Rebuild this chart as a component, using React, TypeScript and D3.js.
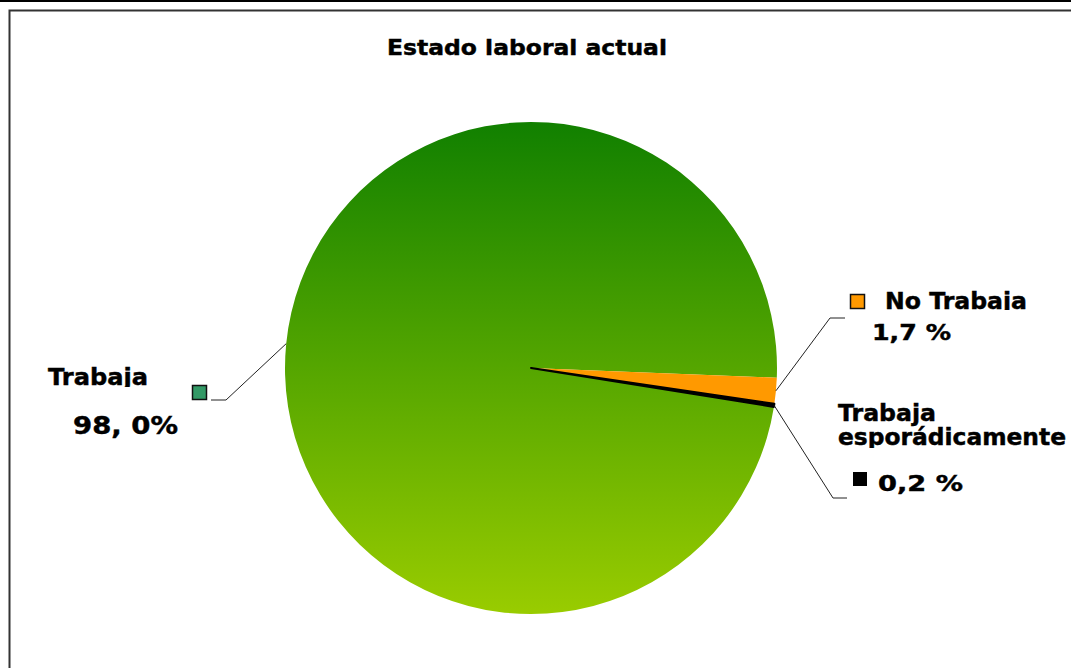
import React from "react";
import * as d3 from "d3";

const title = "Estado laboral actual";
const categories = ["Trabaja", "No Trabaja", "Trabaja esporádicamente"];
const values = [98.0, 1.7, 0.2];
const valueLabels = ["98, 0%", "1,7 %", "0,2 %"];

const W = 1071;
const H = 668;
const cx = 531;
const cy = 368;
const R = 246;
const FONT = "'DejaVu Sans', Verdana, sans-serif";

const textStyle = {
  fontFamily: FONT,
  fontWeight: "bold" as const,
  stroke: "#000",
  strokeWidth: 0.45,
};

export default function App() {
  const startDeg = 99.1;
  const pie = d3
    .pie<number>()
    .sort(null)
    .value((d) => d)
    .startAngle((startDeg * Math.PI) / 180)
    .endAngle((startDeg * Math.PI) / 180 + 2 * Math.PI);
  const arcs = pie(values);
  const arc = d3.arc<d3.PieArcDatum<number>>().innerRadius(0).outerRadius(R);
  const edge = (a: d3.PieArcDatum<number>) => {
    const m = (a.startAngle + a.endAngle) / 2;
    return [cx + R * Math.sin(m), cy - R * Math.cos(m)];
  };
  const fills = ["url(#greenGrad)", "#FF9900", "#000000"];

  const leaders = [
    [[226, 400], [211, 400]],
    [[830, 318], [845, 318]],
    [[833, 498], [847, 498]],
  ];
  const line = d3.line();

  return (
    <svg
      width={W}
      height={H}
      style={{ position: "absolute", left: 0, top: 0, background: "#fff" }}
    >
      <defs>
        <linearGradient
          id="greenGrad"
          gradientUnits="userSpaceOnUse"
          x1={0}
          y1={-R}
          x2={0}
          y2={R}
        >
          <stop offset="0" stopColor="#118000" />
          <stop offset="1" stopColor="#99CC00" />
        </linearGradient>
        <clipPath id="clipTrL">
          <rect x={0} y={300} width={300} height={87} />
        </clipPath>
        <clipPath id="clipNo">
          <rect x={870} y={270} width={200} height={40} />
        </clipPath>
        <clipPath id="clipEsp">
          <rect x={830} y={425} width={241} height={23} />
        </clipPath>
      </defs>
      <rect x={0} y={0} width={W} height={H} fill="#fff" />
      <line x1={0} x2={W} y1={1} y2={1} stroke="#000" strokeWidth={2} />
      <rect
        x={9.5}
        y={10.5}
        width={1200}
        height={800}
        fill="none"
        stroke="#333"
        strokeWidth={2}
      />

      <text
        x={387}
        y={55}
        {...textStyle}
        fontSize={22}
        textLength={280}
        lengthAdjust="spacingAndGlyphs"
      >
        {title}
      </text>

      <g transform={`translate(${cx},${cy})`}>
        {arcs.map((a, i) => (
          <path
            key={categories[i]}
            d={arc(a) || ""}
            fill={fills[i]}
            stroke={i === 2 ? "#000" : "none"}
            strokeWidth={i === 2 ? 2 : 0}
            strokeLinejoin="round"
          />
        ))}
      </g>

      {arcs.map((a, i) => {
        const p = edge(a);
        const pts = [p as [number, number], ...(leaders[i] as [number, number][])];
        return (
          <path
            key={"l" + i}
            d={line(pts) || ""}
            fill="none"
            stroke="#222"
            strokeWidth={1}
          />
        );
      })}

      {/* Trabaja */}
      <text
        x={48}
        y={385}
        {...textStyle}
        fontSize={23}
        textLength={100}
        lengthAdjust="spacingAndGlyphs"
        clipPath="url(#clipTrL)"
      >
        {categories[0]}
      </text>
      <rect x={192.5} y={385.5} width={14} height={14} fill="#339966" stroke="#111" strokeWidth={1.5} />
      <text
        x={73}
        y={434}
        {...textStyle}
        fontSize={24}
        textLength={105}
        lengthAdjust="spacingAndGlyphs"
      >
        {valueLabels[0]}
      </text>

      {/* No Trabaja */}
      <rect x={850.5} y={294.5} width={14} height={14} fill="#FF9900" stroke="#111" strokeWidth={1.5} />
      <text
        x={885}
        y={309}
        {...textStyle}
        fontSize={23}
        textLength={142}
        lengthAdjust="spacingAndGlyphs"
        clipPath="url(#clipNo)"
      >
        {categories[1]}
      </text>
      <text
        x={872}
        y={340}
        {...textStyle}
        fontSize={22}
        textLength={79}
        lengthAdjust="spacingAndGlyphs"
      >
        {valueLabels[1]}
      </text>

      {/* Trabaja esporádicamente */}
      <text
        x={838}
        y={421}
        {...textStyle}
        fontSize={23}
        textLength={98}
        lengthAdjust="spacingAndGlyphs"
      >
        {categories[2].split(" ")[0]}
      </text>
      <text
        x={838}
        y={445}
        {...textStyle}
        fontSize={23}
        textLength={228}
        lengthAdjust="spacingAndGlyphs"
        clipPath="url(#clipEsp)"
      >
        {categories[2].split(" ")[1]}
      </text>
      <rect x={853} y={472} width={14} height={14} fill="#000" />
      <text
        x={878}
        y={491}
        {...textStyle}
        fontSize={22}
        textLength={85}
        lengthAdjust="spacingAndGlyphs"
      >
        {valueLabels[2]}
      </text>
    </svg>
  );
}
